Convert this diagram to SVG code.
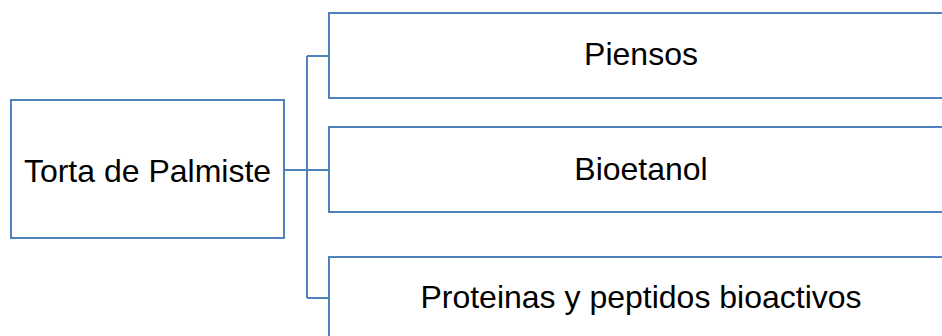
<svg xmlns="http://www.w3.org/2000/svg" width="942" height="336" viewBox="0 0 942 336">
<style>
.box{fill:#fff;stroke:#4F81BD;stroke-width:2}
.conn{fill:none;stroke:#4F81BD;stroke-width:2}
.t{font-family:"Liberation Sans",Arial,sans-serif;font-size:32px;fill:#000;text-anchor:middle}
</style>
<rect width="942" height="336" fill="#fff"/>
<g id="connectors">
<path class="conn" d="M284,170 H307 M307,56 V298 M307,56 H329 M307,170 H329 M307,298 H329"/>
</g>
<g id="torta">
<rect class="box" x="11" y="100" width="273" height="138"/>
<text class="t" x="147.5" y="182">Torta de Palmiste</text>
</g>
<g id="piensos">
<rect class="box" x="329" y="13" width="624" height="85"/>
<text class="t" x="641" y="65">Piensos</text>
</g>
<g id="bioetanol">
<rect class="box" x="329" y="127" width="624" height="85"/>
<text class="t" x="641" y="180">Bioetanol</text>
</g>
<g id="proteinas">
<rect class="box" x="329" y="257" width="624" height="85"/>
<text class="t" x="641" y="308">Proteinas y peptidos bioactivos</text>
</g>
</svg>
